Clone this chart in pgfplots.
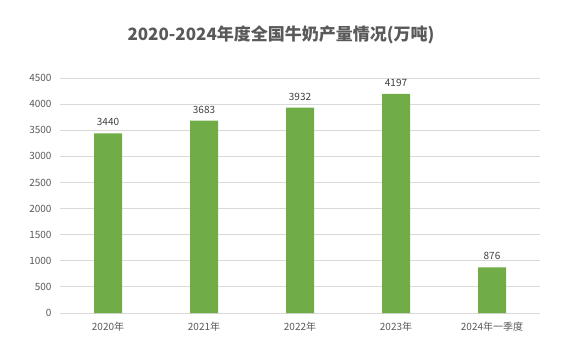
\documentclass[border=0pt]{standalone}
\usepackage{pgfplots}
\pgfplotsset{compat=1.18}
\usepackage{fontspec}
\setmainfont{Noto Sans CJK SC}
\definecolor{bargreen}{HTML}{70AD47}
\definecolor{txt}{HTML}{595959}
\definecolor{gridc}{HTML}{D9D9D9}
\begin{document}
\begin{tikzpicture}[x=1pt,y=1pt]
\path (0,0) rectangle (564,360);
\node[text=txt, font=\fontsize{17}{19}\selectfont\bfseries] at (281,325) {2020-2024年度全国牛奶产量情况(万吨)};
\begin{axis}[
  at={(60pt,47pt)}, anchor=south west,
  scale only axis, width=480pt, height=235pt,
  ymin=0, ymax=4500, ytick={0,500,...,4500},
  xmin=-0.5, xmax=4.5,
  xtick={0,1,2,3,4},
  xticklabels={2020年,2021年,2022年,2023年,2024年一季度},
  ymajorgrids, grid style={gridc, line width=0.8pt},
  axis y line*=left,
  axis x line*=bottom,
  y axis line style={draw=none},
  x axis line style={gridc, line width=0.8pt, -},
  major tick length=0pt,
  tick label style={text=txt, font=\fontsize{10}{12}\selectfont},
  /pgf/number format/assume math mode=true,
  /pgf/number format/1000 sep={},
  yticklabel style={xshift=-5pt},
  xticklabel style={yshift=-6pt},
  ybar, bar width=28pt,
  nodes near coords,
  nodes near coords style={text=txt!70!black, font=\fontsize{10}{12}\selectfont, /pgf/number format/1000 sep={}, yshift=4pt},
  clip=false,
]
\addplot[fill=bargreen, draw=none] coordinates {(0,3440) (1,3683) (2,3932) (3,4197) (4,876)};
\end{axis}
\end{tikzpicture}
\end{document}
